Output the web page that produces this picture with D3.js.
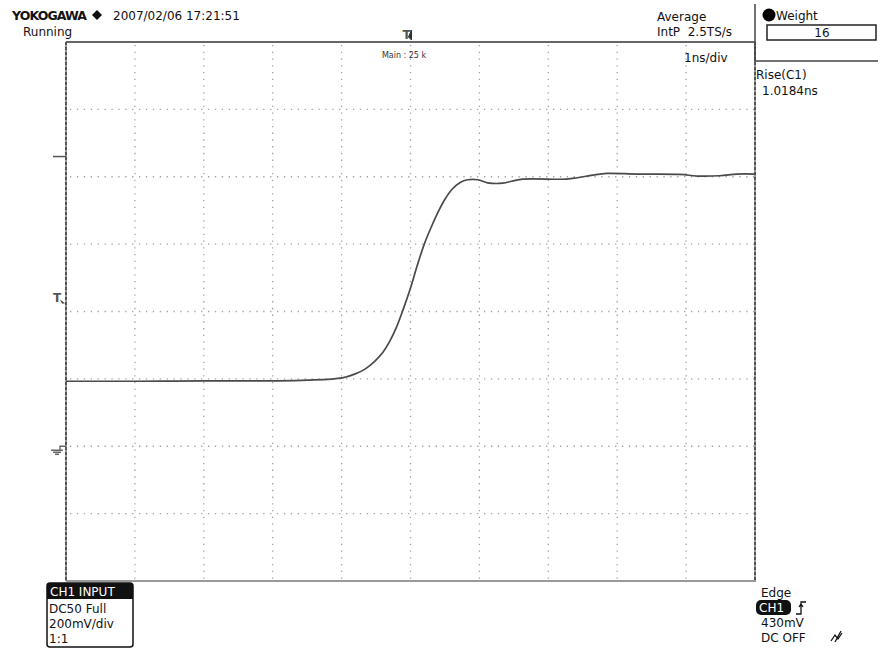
<!DOCTYPE html>
<html>
<head>
<meta charset="utf-8">
<script src="https://d3js.org/d3.v7.min.js"></script>
<style>
body {
  margin: 0;
  background-color: #fff;
  overflow: hidden;
}
text {
  font-family: "DejaVu Sans", Verdana, sans-serif;
  fill: #111;
}
</style>
</head>
<body>
<svg width="878" height="649" id="vis"></svg>

<script>
// waveform (time in ns, level in V)
var timeNs = [-5, -4, -3, -2, -1.5, -0.99, -0.81, -0.66, -0.52, -0.40, -0.30, -0.20, -0.10, 0.0,
  0.10, 0.20, 0.30, 0.40, 0.50, 0.60, 0.72, 0.83, 0.98, 1.12, 1.34, 1.49, 1.63,
  2.27, 2.42, 2.65, 2.85, 3.29, 3.91, 4.16, 4.49, 4.74, 5.0];
var voltsV = [0.193, 0.193, 0.194, 0.194, 0.196, 0.203, 0.214, 0.229, 0.252, 0.279, 0.312, 0.355, 0.410, 0.470,
  0.538, 0.600, 0.650, 0.695, 0.733, 0.762, 0.783, 0.791, 0.791, 0.782, 0.781, 0.788, 0.793,
  0.793, 0.797, 0.805, 0.810, 0.808, 0.807, 0.802, 0.803, 0.808, 0.808];

// graticule: 1ns/div, 200mV/div
var vGridNs = [-4, -3, -2, -1, 0, 1, 2, 3, 4];
var hGridV = [-0.2, 0, 0.2, 0.4, 0.6, 0.8, 1.0];

// markers on the left edge
var groundV = 0;
var trigLevelV = 0.43;
var upperMarkV = 0.86;
var trigPosNs = 0;

var ch1Info = ["DC50 Full", "200mV/div", "1:1"];
var trigInfo = ["430mV", "DC OFF"];

var svg = d3.select("#vis");

var x = d3.scaleLinear().domain([-5, 5]).range([66, 755]);
var y = d3.scaleLinear().domain([-0.4, 1.2]).range([581, 42]);

var data = timeNs.map(function(t, i) { return {t: t, v: voltsV[i]}; });

// dotted grid
svg.append("g").selectAll("line")
  .data(vGridNs)
  .enter().append("line")
    .attr("x1", function(d) { return x(d); })
    .attr("x2", function(d) { return x(d); })
    .attr("y1", y(1.2) + 3)
    .attr("y2", y(-0.4))
    .attr("stroke", "#a0a0a0")
    .attr("stroke-width", 1.3)
    .attr("stroke-dasharray", "1.3,5.44");

svg.append("g").selectAll("line")
  .data(hGridV)
  .enter().append("line")
    .attr("x1", x(-5) + 4)
    .attr("x2", x(5))
    .attr("y1", function(d) { return y(d); })
    .attr("y2", function(d) { return y(d); })
    .attr("stroke", "#a0a0a0")
    .attr("stroke-width", 1.3)
    .attr("stroke-dasharray", "1.3,5.6");

// frame
svg.append("line").attr("x1", x(-5)).attr("x2", x(5)).attr("y1", y(1.2)).attr("y2", y(1.2))
  .attr("stroke", "#666").attr("stroke-width", 2);
svg.append("line").attr("x1", x(-5)).attr("x2", x(5) + 1).attr("y1", y(-0.4)).attr("y2", y(-0.4))
  .attr("stroke", "#777").attr("stroke-width", 1.6);

[x(-5), x(5)].forEach(function(px) {
  svg.append("line").attr("x1", px).attr("x2", px).attr("y1", y(1.2)).attr("y2", y(-0.4))
    .attr("stroke", "#999").attr("stroke-width", 2);
  svg.append("line").attr("x1", px).attr("x2", px).attr("y1", y(1.2)).attr("y2", y(-0.4))
    .attr("stroke", "#444").attr("stroke-width", 1.6).attr("stroke-dasharray", "3,2");
});

// the trace
var line = d3.line()
  .x(function(d) { return x(d.t); })
  .y(function(d) { return y(d.v); })
  .curve(d3.curveCatmullRom.alpha(0.5));

svg.append("path")
  .datum(data)
  .attr("d", line)
  .attr("fill", "none")
  .attr("stroke", "#4a4a4a")
  .attr("stroke-width", 1.7);

// left edge markers
svg.append("line").attr("x1", 53).attr("x2", x(-5)).attr("y1", y(upperMarkV)).attr("y2", y(upperMarkV))
  .attr("stroke", "#555").attr("stroke-width", 1.5);

svg.append("text").attr("x", 53).attr("y", y(trigLevelV) + 1)
  .attr("font-size", "12px").attr("font-weight", "bold").style("fill", "#555").text("T");
svg.append("path")
  .attr("d", "M" + 60 + "," + (y(trigLevelV) - 2) + " l5,4 l-3,0 z")
  .attr("fill", "#333");

var gy = y(groundV);
svg.append("path")
  .attr("d", "M" + x(-5) + "," + gy + " h-6 v4 M51," + (gy + 4) + " h12 M53," + (gy + 6) + " h8 M55," + (gy + 8) + " h4")
  .attr("fill", "none").attr("stroke", "#666").attr("stroke-width", 1.4);

// trigger position marker on top
var tx = x(trigPosNs);
svg.append("text").attr("x", tx - 8).attr("y", 39)
  .attr("font-size", "12px").attr("font-weight", "bold").style("fill", "#555").text("T");
svg.append("path")
  .attr("d", "M" + (tx + 1) + "," + 30 + " v10 l-3,-3 z")
  .attr("fill", "#333").attr("stroke", "#333");

// header texts
svg.append("text").attr("x", 12).attr("y", 20).attr("font-size", "12.5px").attr("font-weight", "bold")
  .attr("letter-spacing", "-0.9").text("YOKOGAWA");
svg.append("path").attr("d", "M97,10 l5,5 l-5,5 l-5,-5 z").attr("fill", "#111");
svg.append("text").attr("x", 113).attr("y", 20).attr("font-size", "12px").text("2007/02/06 17:21:51");
svg.append("text").attr("x", 23).attr("y", 36).attr("font-size", "12px").text("Running");

svg.append("text").attr("x", 404).attr("y", 58).attr("font-size", "8px").attr("text-anchor", "middle")
  .style("fill", "#333").text("Main : 25 k");

svg.append("text").attr("x", 657).attr("y", 21).attr("font-size", "12px").text("Average");
svg.append("text").attr("x", 657).attr("y", 36).attr("font-size", "12px").attr("xml:space", "preserve")
  .text("IntP  2.5TS/s");
svg.append("text").attr("x", 684).attr("y", 62).attr("font-size", "12px").text("1ns/div");

// right panel
svg.append("path").attr("d", "M755,4 V61 H878").attr("fill", "none")
  .attr("stroke", "#444").attr("stroke-width", 1.5);
svg.append("circle").attr("cx", 769).attr("cy", 15).attr("r", 6.5).attr("fill", "#000");
svg.append("text").attr("x", 776).attr("y", 20).attr("font-size", "12px").text("Weight");
svg.append("rect").attr("x", 767).attr("y", 25).attr("width", 109).attr("height", 15)
  .attr("fill", "#fff").attr("stroke", "#222").attr("stroke-width", 1.5);
svg.append("text").attr("x", 822).attr("y", 37).attr("font-size", "12px").attr("text-anchor", "middle").text("16");

svg.append("text").attr("x", 756).attr("y", 79).attr("font-size", "12px").text("Rise(C1)");
svg.append("text").attr("x", 762).attr("y", 95).attr("font-size", "12px").text("1.0184ns");

// channel box, bottom left
svg.append("rect").attr("x", 47).attr("y", 583).attr("width", 86).attr("height", 64).attr("rx", 3)
  .attr("fill", "#fff").attr("stroke", "#111").attr("stroke-width", 1.5);
svg.append("path").attr("d", "M47,599 V586 Q47,583 50,583 H130 Q133,583 133,586 V599 Z").attr("fill", "#111");
svg.append("text").attr("x", 50).attr("y", 596).attr("font-size", "12px").style("fill", "#fff").text("CH1 INPUT");
svg.append("g").selectAll("text")
  .data(ch1Info)
  .enter().append("text")
    .attr("x", 49)
    .attr("y", function(d, i) { return 613 + i * 15; })
    .attr("font-size", "12px")
    .text(function(d) { return d; });

// trigger info, bottom right
svg.append("text").attr("x", 761).attr("y", 597).attr("font-size", "12px").text("Edge");
svg.append("rect").attr("x", 756).attr("y", 600).attr("width", 35).attr("height", 15).attr("rx", 5).attr("fill", "#111");
svg.append("text").attr("x", 759).attr("y", 612).attr("font-size", "12px").style("fill", "#fff").text("CH1");
svg.append("path").attr("d", "M796,614 h5 v-12 h5 M799,607 l2,-3 l2,3")
  .attr("fill", "none").attr("stroke", "#111").attr("stroke-width", 1.3);
svg.append("g").selectAll("text")
  .data(trigInfo)
  .enter().append("text")
    .attr("x", 761)
    .attr("y", function(d, i) { return 627 + i * 15; })
    .attr("font-size", "12px")
    .text(function(d) { return d; });
svg.append("path").attr("d", "M831,641 l4,-6 l3,4 l4,-6 M835,642 l6,-11")
  .attr("fill", "none").attr("stroke", "#111").attr("stroke-width", 1.3);
</script>
</body>
</html>
